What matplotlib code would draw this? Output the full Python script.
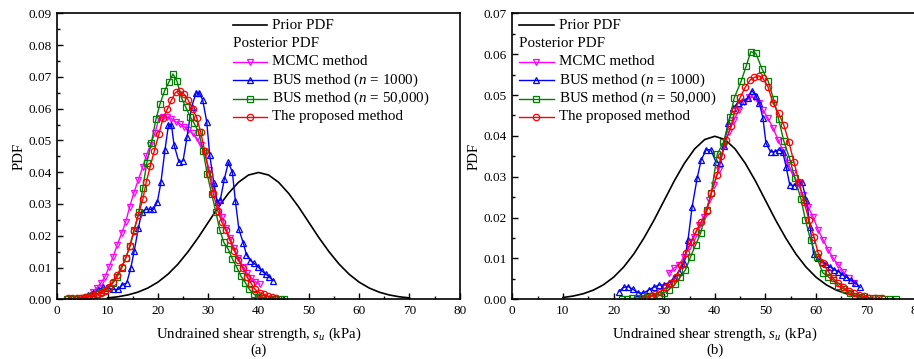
import matplotlib
matplotlib.use("Agg")
import matplotlib.pyplot as plt
from matplotlib.ticker import MultipleLocator, FormatStrFormatter

plt.rcParams['font.family'] = ['Liberation Serif', 'DejaVu Serif']
plt.rcParams['mathtext.fontset'] = 'custom'
plt.rcParams['mathtext.rm'] = 'Liberation Serif'
plt.rcParams['mathtext.it'] = 'Liberation Serif:italic'

# prior PDF (same in both panels)
prior_x = [10, 12, 14, 16, 18, 20, 22, 24, 26, 28, 30, 32, 34, 36, 38, 40,
           42, 44, 46, 48, 50, 52, 54, 56, 58, 60, 62, 64, 66, 68, 70]
prior_y = [0.00044, 0.00079, 0.00136, 0.00224, 0.00355, 0.0054, 0.0079, 0.0111,
           0.0150, 0.0194, 0.0242, 0.0290, 0.0333, 0.0368, 0.0391, 0.0399,
           0.0391, 0.0368, 0.0333, 0.0290, 0.0242, 0.0194, 0.0150, 0.0111,
           0.0079, 0.0054, 0.00355, 0.00224, 0.00136, 0.00079, 0.00044]

# ---- panel (a) ----
a_mcmc_x = [7.0, 7.8, 8.6, 9.5, 10.3, 11.1, 11.9, 12.8, 13.6, 14.4, 15.2, 16.1, 17.0,
            17.7, 18.5, 19.4, 20.2, 21.1, 21.9, 22.7, 23.5, 24.4, 25.2, 26.0, 26.9,
            27.7, 28.5, 29.3, 30.2, 31.0, 31.9, 32.7, 33.5, 34.3, 35.2, 36.0, 36.9,
            37.7, 38.6, 39.3, 40.2]
a_mcmc_y = [0.0024, 0.0035, 0.0050, 0.0071, 0.0103, 0.0134, 0.0171, 0.0208, 0.0244,
            0.0292, 0.0334, 0.0376, 0.0417, 0.0452, 0.0486, 0.0522, 0.0570, 0.0575,
            0.0573, 0.0568, 0.0559, 0.0552, 0.0543, 0.0533, 0.0522, 0.0507, 0.0486,
            0.0460, 0.0407, 0.0355, 0.0302, 0.0260, 0.0223, 0.0192, 0.0160, 0.0129,
            0.0103, 0.0082, 0.0066, 0.0056, 0.0048]

a_bus1_x = [6.1, 7.1, 8.1, 9.1, 10.1, 11.1, 12.1, 12.9, 13.8, 14.6, 15.3, 16.1, 16.8,
            17.6, 18.4, 19.1, 19.9, 20.6, 21.4, 22.1, 22.7, 23.2, 24.2, 25.0, 25.8,
            26.7, 27.6, 28.2, 28.9, 29.7, 30.3, 31.1, 31.8, 32.4, 33.2, 34.0, 34.8,
            35.4, 36.1, 37.0, 37.6, 38.4, 39.1, 39.9, 40.6, 41.4, 42.1, 42.9]
a_bus1_y = [0.0014, 0.0019, 0.0030, 0.0038, 0.0035, 0.0031, 0.0031, 0.0045, 0.0052,
            0.0098, 0.0153, 0.0223, 0.0276, 0.0283, 0.0283, 0.0283, 0.0307, 0.0368,
            0.0470, 0.0549, 0.0549, 0.0486, 0.0431, 0.0436, 0.0512, 0.0606, 0.0650,
            0.0650, 0.0627, 0.0559, 0.0454, 0.0367, 0.0307, 0.0313, 0.0378, 0.0431,
            0.0400, 0.0309, 0.0220, 0.0176, 0.0140, 0.0122, 0.0113, 0.0103, 0.0090,
            0.0080, 0.0071, 0.0059]

a_bus2_x = [2.0, 2.8, 3.7, 4.5, 5.4, 6.2, 7.0, 7.9, 8.7, 9.5, 10.3, 11.1, 11.9, 12.8,
            13.6, 14.5, 15.3, 16.2, 17.0, 17.8, 18.7, 19.6, 20.4, 21.3, 22.2, 23.0,
            23.8, 24.7, 25.5, 26.4, 27.2, 28.1, 29.0, 29.8, 30.7, 31.5, 32.3, 33.1,
            34.0, 34.8, 35.7, 36.5, 37.4, 38.2, 39.1, 39.9, 40.8, 41.6, 42.5, 43.3,
            44.2, 45.0]
a_bus2_y = [0.0001, 0.0001, 0.0002, 0.0003, 0.0005, 0.0008, 0.0012, 0.0016, 0.0022,
            0.0029, 0.0037, 0.0052, 0.0071, 0.0098, 0.0131, 0.0168, 0.0218, 0.0274,
            0.0351, 0.0430, 0.0493, 0.0566, 0.0614, 0.0655, 0.0684, 0.0709, 0.0686,
            0.0633, 0.0606, 0.0575, 0.0554, 0.0526, 0.0467, 0.0393, 0.0331, 0.0276,
            0.0218, 0.0179, 0.0157, 0.0127, 0.0100, 0.0073, 0.0052, 0.0031, 0.0016,
            0.0007, 0.0004, 0.0002, 0.0001, 0.0001, 0.0000, 0.0000]

a_prop_x = [2.2, 3.0, 3.9, 4.7, 5.5, 6.3, 7.1, 7.9, 8.7, 9.5, 10.3, 11.1, 11.9, 12.8,
            13.6, 14.4, 15.2, 16.1, 17.0, 17.7, 18.5, 19.3, 20.2, 21.0, 21.9, 22.7,
            23.5, 24.4, 25.2, 26.0, 26.9, 27.7, 28.5, 29.3, 30.2, 31.0, 31.9, 32.7,
            33.5, 34.3, 35.2, 36.0, 36.9, 37.7, 38.6, 39.3, 40.2, 41.0, 41.8, 42.6,
            43.5]
a_prop_y = [0.0003, 0.0003, 0.0004, 0.0005, 0.0007, 0.0009, 0.0012, 0.0016, 0.0021,
            0.0027, 0.0040, 0.0056, 0.0077, 0.0103, 0.0129, 0.0168, 0.0215, 0.0265,
            0.0315, 0.0370, 0.0420, 0.0468, 0.0520, 0.0569, 0.0599, 0.0627, 0.0651,
            0.0655, 0.0645, 0.0627, 0.0599, 0.0572, 0.0526, 0.0467, 0.0394, 0.0334,
            0.0279, 0.0243, 0.0218, 0.0187, 0.0153, 0.0124, 0.0100, 0.0071, 0.0048,
            0.0031, 0.0021, 0.0016, 0.0010, 0.0006, 0.0003]

# ---- panel (b) ----
b_mcmc_x = [30.9, 31.9, 32.9, 33.9, 34.9, 35.9, 36.9, 37.9, 38.9, 39.8, 40.8, 41.8,
            42.8, 43.8, 44.8, 45.8, 46.8, 47.8, 48.7, 49.5, 50.5, 51.5, 52.5, 53.4,
            54.4, 55.4, 56.4, 57.4, 58.4, 59.4, 60.4, 61.4, 62.4, 63.4, 64.4, 65.4,
            66.4, 67.4]
b_mcmc_y = [0.0064, 0.0076, 0.0084, 0.0104, 0.0129, 0.0153, 0.0182, 0.0202, 0.0243,
            0.0280, 0.0317, 0.0374, 0.0410, 0.0440, 0.0463, 0.0484, 0.0496, 0.0494,
            0.0480, 0.0463, 0.0443, 0.0419, 0.0390, 0.0366, 0.0333, 0.0308, 0.0284,
            0.0255, 0.0227, 0.0202, 0.0170, 0.0145, 0.0121, 0.0100, 0.0084, 0.0068,
            0.0051, 0.0039]

b_bus1_x = [21.0, 22.0, 22.9, 23.9, 24.9, 25.9, 26.9, 27.9, 28.9, 29.9, 30.9, 31.9,
            32.9, 33.9, 34.7, 35.5, 36.5, 37.3, 38.3, 39.2, 40.2, 41.0, 41.8, 42.6,
            43.5, 44.5, 45.5, 46.5, 47.3, 48.1, 48.8, 49.5, 50.1, 51.0, 51.8, 52.6,
            53.4, 54.1, 54.8, 55.6, 56.4, 57.2, 58.1, 58.8, 59.5, 60.3, 61.1, 61.9,
            62.7, 63.6, 64.4, 65.2, 66.0, 66.9, 67.7, 68.7]
b_bus1_y = [0.0019, 0.0029, 0.0031, 0.0024, 0.0016, 0.0015, 0.0023, 0.0029, 0.0035,
            0.0035, 0.0041, 0.0051, 0.0068, 0.0088, 0.0145, 0.0225, 0.0296, 0.0341,
            0.0366, 0.0366, 0.0337, 0.0333, 0.0376, 0.0431, 0.0467, 0.0480, 0.0486,
            0.0492, 0.0511, 0.0498, 0.0480, 0.0443, 0.0382, 0.0361, 0.0361, 0.0366,
            0.0361, 0.0323, 0.0280, 0.0278, 0.0288, 0.0286, 0.0243, 0.0178, 0.0111,
            0.0100, 0.0092, 0.0086, 0.0080, 0.0072, 0.0068, 0.0060, 0.0054, 0.0047,
            0.0041, 0.0029]

b_bus2_x = [21.6, 22.6, 23.6, 24.6, 25.6, 26.6, 27.6, 28.9, 29.9, 30.9, 32.2, 33.2,
            34.2, 35.2, 36.2, 37.2, 38.4, 39.3, 40.5, 41.7, 43.0, 43.8, 45.2, 46.2,
            47.1, 48.1, 49.3, 50.5, 51.6, 52.6, 53.6, 54.8, 55.8, 57.0, 57.9, 58.9,
            60.1, 61.3, 62.4, 63.4, 64.4, 65.6, 66.7, 67.7, 68.9, 70.0, 71.2, 72.3,
            73.4, 74.6, 75.7]
b_bus2_y = [0.0001, 0.0001, 0.0002, 0.0003, 0.0004, 0.0006, 0.0008, 0.0011, 0.0016,
            0.0023, 0.0038, 0.0055, 0.0072, 0.0104, 0.0133, 0.0162, 0.0219, 0.0260,
            0.0356, 0.0384, 0.0445, 0.0492, 0.0534, 0.0571, 0.0606, 0.0602, 0.0564,
            0.0535, 0.0490, 0.0441, 0.0388, 0.0343, 0.0296, 0.0246, 0.0194, 0.0145,
            0.0104, 0.0065, 0.0055, 0.0047, 0.0033, 0.0024, 0.0015, 0.0009, 0.0005,
            0.0003, 0.0002, 0.0002, 0.0001, 0.0001, 0.0001]

b_prop_x = [26.3, 27.3, 28.2, 29.2, 30.4, 31.4, 32.4, 33.4, 34.3, 35.3, 36.3, 37.3,
            38.4, 39.3, 40.4, 41.3, 42.2, 43.2, 44.0, 45.0, 46.0, 47.0, 47.8, 48.7,
            49.5, 50.5, 51.5, 52.6, 53.6, 54.6, 55.6, 56.6, 57.6, 58.6, 59.6, 60.4,
            61.4, 62.4, 63.4, 64.4, 65.4, 66.4, 67.4, 68.4, 69.4, 70.4, 71.7, 73.0]
b_prop_y = [0.0004, 0.0008, 0.0013, 0.0019, 0.0029, 0.0039, 0.0055, 0.0084, 0.0113,
            0.0141, 0.0166, 0.0188, 0.0215, 0.0260, 0.0304, 0.0351, 0.0390, 0.0423,
            0.0463, 0.0494, 0.0519, 0.0537, 0.0543, 0.0547, 0.0541, 0.0520, 0.0480,
            0.0455, 0.0427, 0.0386, 0.0337, 0.0288, 0.0239, 0.0194, 0.0152, 0.0113,
            0.0088, 0.0068, 0.0051, 0.0039, 0.0029, 0.0021, 0.0015, 0.0010, 0.0007,
            0.0004, 0.0002, 0.0002]

labels = ['Prior PDF', 'Posterior PDF', 'MCMC method', 'BUS method ($n$ = 1000)',
          'BUS method ($n$ = 50,000)', 'The proposed method']
# colour, marker, marker size
styles = [('#FF00FF', 'v', 5.0), ('#0000FF', '^', 5.0), ('#008000', 's', 4.2),
          ('#FF0000', 'o', 4.6)]

fig = plt.figure(figsize=(9.14, 3.59), dpi=100)
ax_a = fig.add_axes([0.0627, 0.1663, 0.4403, 0.7967])
ax_b = fig.add_axes([0.5605, 0.1663, 0.4432, 0.7967])

panels = [
    (ax_a, [(a_mcmc_x, a_mcmc_y), (a_bus1_x, a_bus1_y), (a_bus2_x, a_bus2_y),
            (a_prop_x, a_prop_y)], 0.09, '(a)', 0.4366),
    (ax_b, [(b_mcmc_x, b_mcmc_y), (b_bus1_x, b_bus1_y), (b_bus2_x, b_bus2_y),
            (b_prop_x, b_prop_y)], 0.07, '(b)', 0.0173),
]

for ax, series, ytop, tag, lx in panels:
    ax.plot(prior_x, prior_y, color='black', lw=1.2)
    for (xs, ys), (c, m, s) in zip(series, styles):
        ax.plot(xs, ys, color=c, lw=1.0, marker=m, ms=s, mfc='none', mec=c, mew=0.9)
    ax.set_xlim(0, 80)
    ax.set_ylim(0, ytop)
    ax.xaxis.set_major_locator(MultipleLocator(10))
    ax.xaxis.set_minor_locator(MultipleLocator(5))
    ax.yaxis.set_major_locator(MultipleLocator(0.01))
    ax.yaxis.set_minor_locator(MultipleLocator(0.005))
    ax.yaxis.set_major_formatter(FormatStrFormatter('%.2f'))
    ax.tick_params(which='both', direction='in', labelsize=9.5, width=1.0)
    ax.tick_params(which='major', length=4.5, pad=4)
    ax.tick_params(which='minor', length=2.5)
    for sp in ax.spines.values():
        sp.set_linewidth(1.2)
    ax.set_ylabel('PDF', fontsize=10.7, labelpad=2)
    ax.set_xlabel('Undrained shear strength, $s_u$ (kPa)', fontsize=10.7, labelpad=6)
    ax.text(0.5, -0.153, tag, transform=ax.transAxes, ha='center', va='top', fontsize=10.7)

    # legend drawn row by row (second row is a caption without a handle)
    hw = 0.0845
    row_h = 0.0643
    for i, lab in enumerate(labels):
        yy = 0.959 - i * row_h
        if i == 1:
            ax.text(lx, yy, lab, transform=ax.transAxes, ha='left', va='center',
                    fontsize=10.8)
            continue
        if i == 0:
            ax.plot([lx, lx + hw], [yy, yy], color='black', lw=1.2,
                    transform=ax.transAxes, clip_on=False)
        else:
            c, m, s = styles[i - 2]
            ax.plot([lx, lx + hw], [yy, yy], color=c, lw=1.0,
                    transform=ax.transAxes, clip_on=False)
            ax.plot([lx + hw / 2], [yy], color=c, marker=m, ms=s, mfc='none',
                    mec=c, mew=0.9, transform=ax.transAxes, clip_on=False)
        ax.text(lx + hw + 0.0125, yy, lab, transform=ax.transAxes, ha='left',
                va='center', fontsize=10.8)

fig.savefig('out.png', dpi=100)
